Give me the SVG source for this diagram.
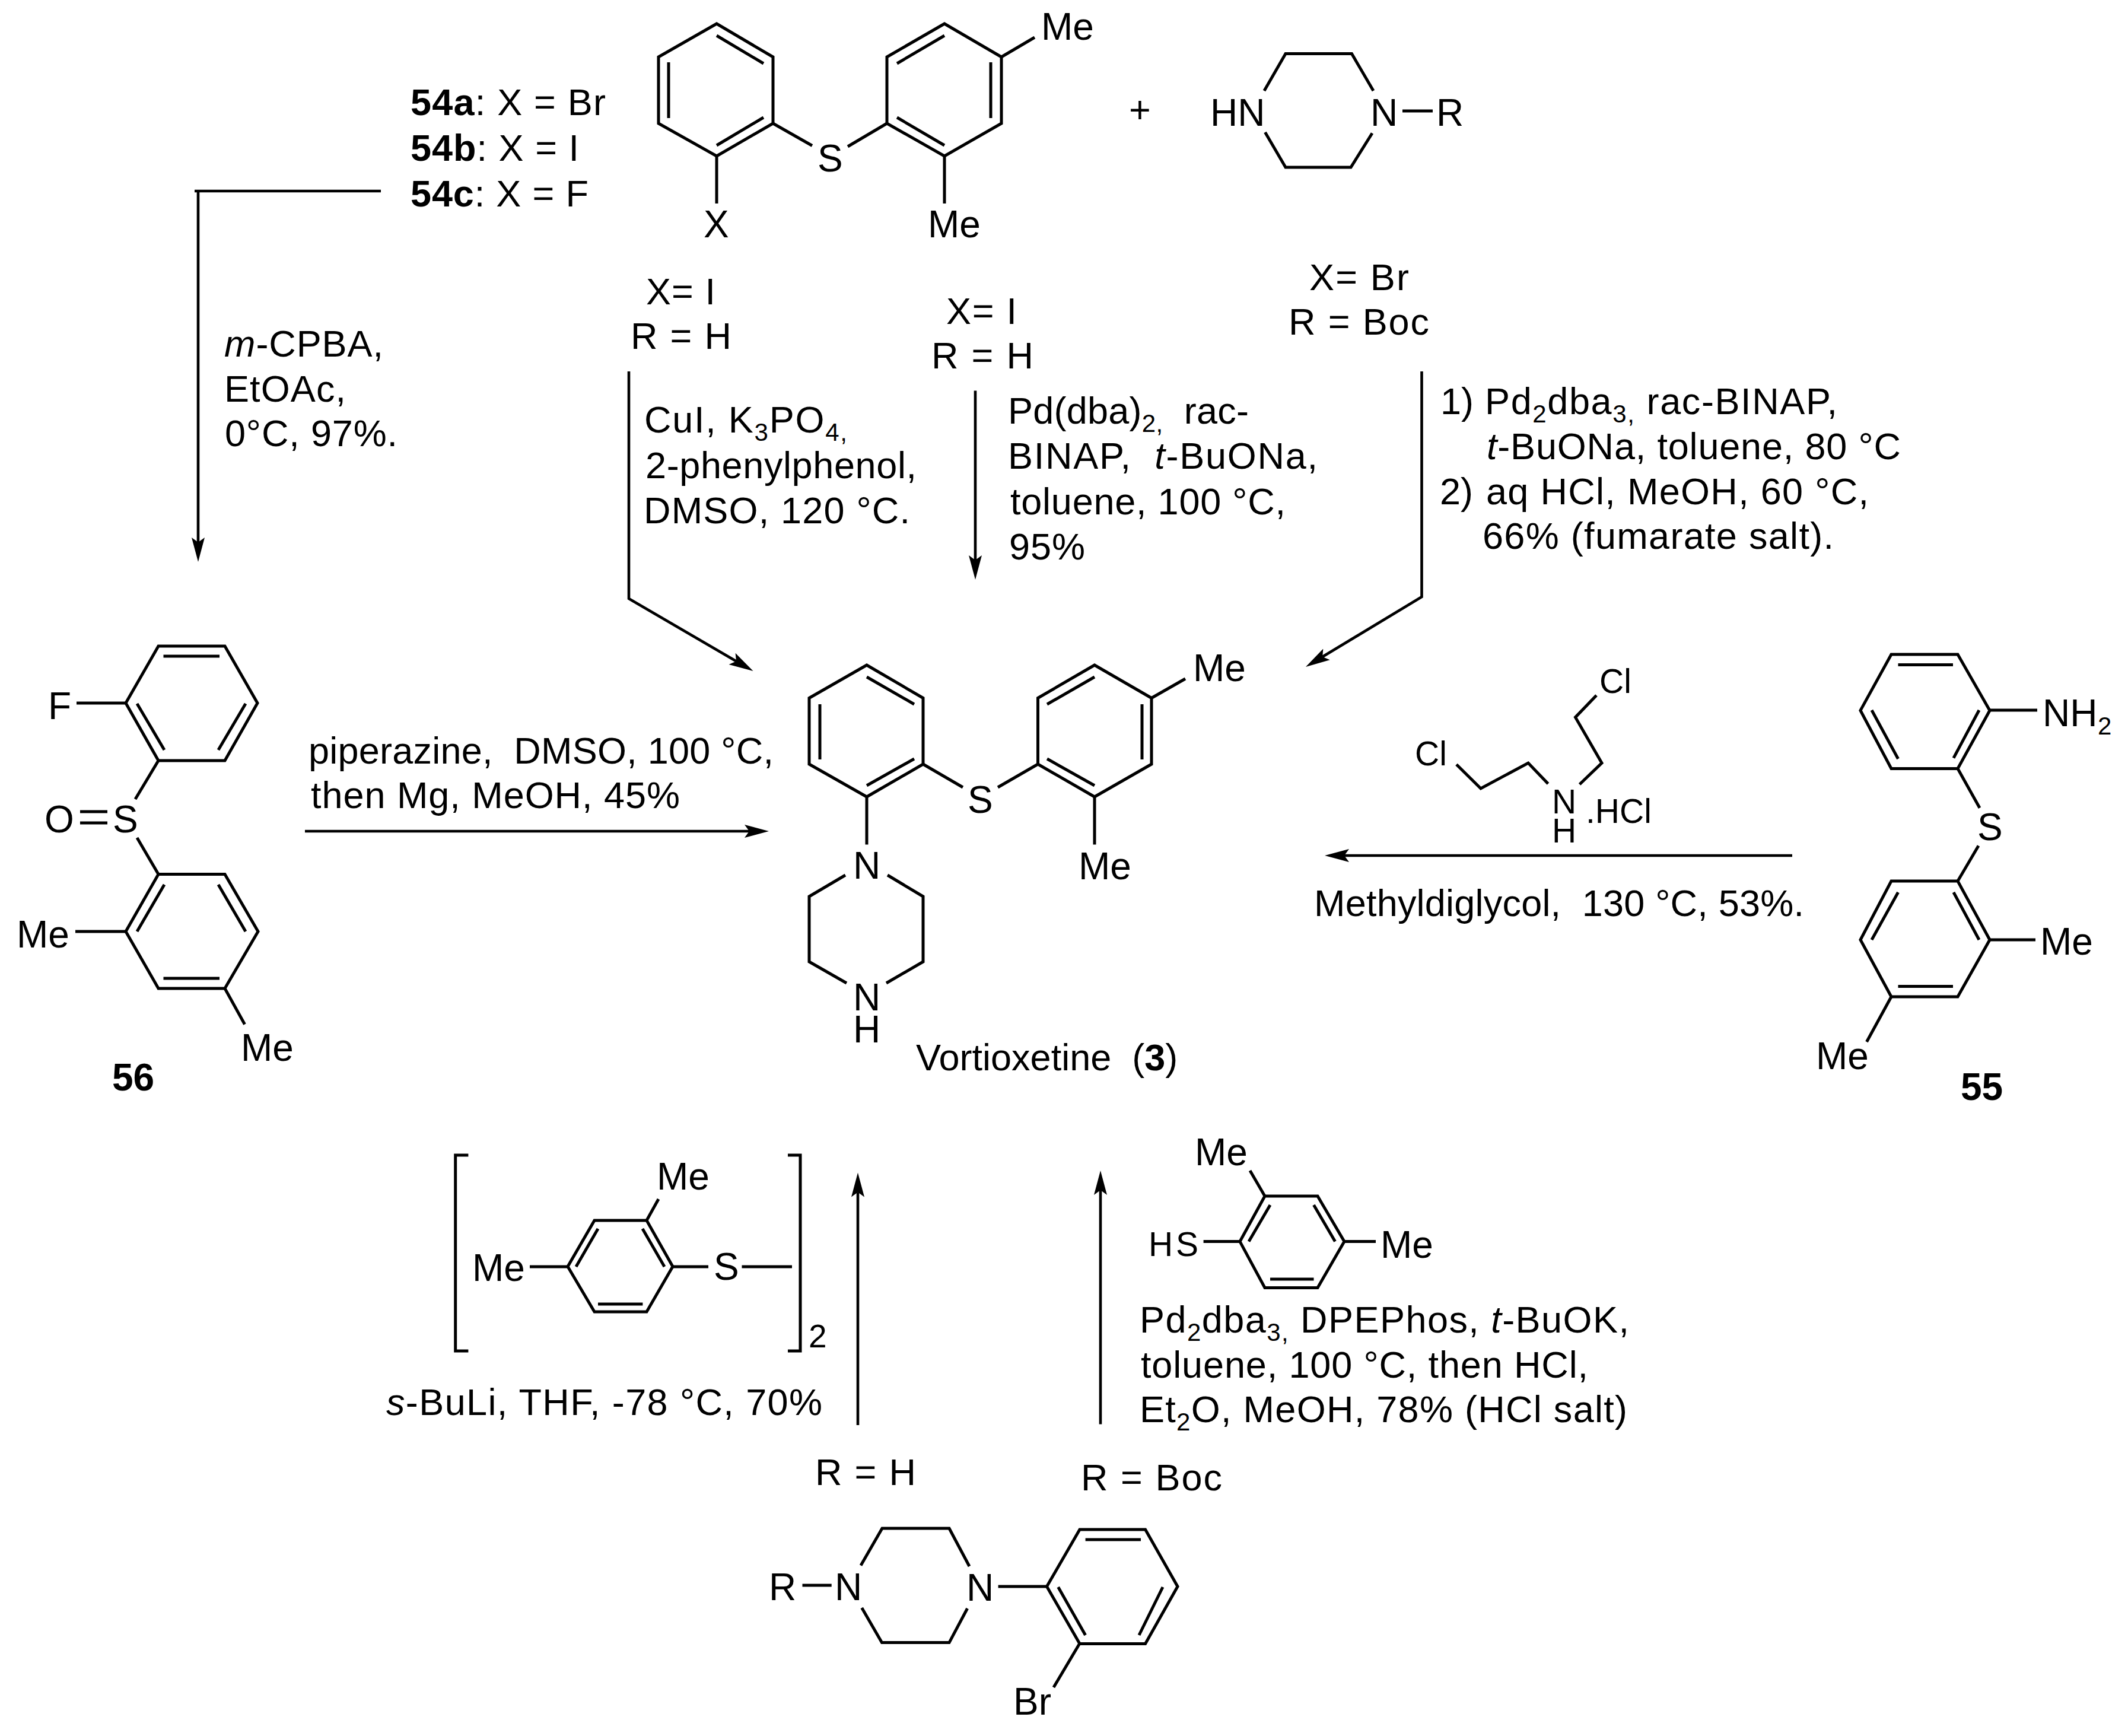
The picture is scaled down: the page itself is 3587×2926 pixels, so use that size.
<svg xmlns="http://www.w3.org/2000/svg" width="3587" height="2926" viewBox="0 0 3587 2926">
<style>
text{font-family:"Liberation Sans",Arial,sans-serif;font-size:63px;fill:#000;white-space:pre}
.a{font-size:64px}
.s{font-size:57px}
.b{font-weight:bold}
.i{font-style:italic}
.u{font-size:42px}
.v{font-size:55px}
path{fill:none;stroke:#000;stroke-width:5;stroke-linejoin:miter;stroke-linecap:butt}
#connectors path{stroke-width:4.6}
#ah path{fill:#000;stroke:none}
</style>
<defs>
<marker id="ah" viewBox="-8 -12 42 24" refX="0" refY="0" markerWidth="42" markerHeight="24" markerUnits="userSpaceOnUse" orient="auto">
<path d="M-8,-11L33,0L-8,11L0,0Z"/>
</marker>
</defs>
<rect width="3587" height="2926" fill="#fff"/>

<g id="connectors">
<path d="M328,322H642"/>
<path d="M334,322V914" marker-end="url(#ah)"/>
<path d="M1060,626V1009L1241,1114.4" marker-end="url(#ah)"/>
<path d="M1644,658.5V944" marker-end="url(#ah)"/>
<path d="M2396.5,626V1006L2229.2,1107" marker-end="url(#ah)"/>
<path d="M514,1401H1263" marker-end="url(#ah)"/>
<path d="M3021,1442H2266" marker-end="url(#ah)"/>
<path d="M1446,2402V2009.5" marker-end="url(#ah)"/>
<path d="M1855,2400.6V2006" marker-end="url(#ah)"/>
</g>

<g id="compound-54">
<path d="M1208,40L1303,96V208L1208,263L1110,208V96Z"/>
<path d="M1208,60L1287,107M1127,105V199M1208,245L1287,198"/>
<path d="M1303,208L1369,245.5M1429,247L1495,208"/>
<path d="M1592,40L1688,96V208L1592,263L1495,208V96Z"/>
<path d="M1512,107L1592,60M1670,105V199M1512,198L1592,245"/>
<path d="M1688,96L1744,63M1208,263V343M1592,263V343"/>
<text class="a" x="1378" y="289">S</text>
<text class="a" x="1755" y="67">Me</text>
<text class="a" x="1186" y="400">X</text>
<text class="a" x="1564" y="400">Me</text>
</g>

<g id="labels-54">
<text x="692" y="194" textLength="329"><tspan class="b">54a</tspan>: X = Br</text>
<text x="692" y="271" textLength="284"><tspan class="b">54b</tspan>: X = I</text>
<text x="692" y="348" textLength="300"><tspan class="b">54c</tspan>: X = F</text>
</g>

<g id="plus"><text x="1903" y="207">+</text></g>

<g id="piperazine-reagent">
<path d="M2131,153L2167,90.5H2278.5L2315,153M2132.5,223L2167,282H2277L2313,224.5M2364,187H2415"/>
<text class="a" x="2040" y="212">HN</text>
<text class="a" x="2310" y="212">N</text>
<text class="a" x="2421" y="212">R</text>
</g>

<g id="conditions-top">
<text x="1089" y="513" textLength="117">X= I</text>
<text x="1063" y="588" textLength="170">R = H</text>
<text x="1595" y="546" textLength="119">X= I</text>
<text x="1570" y="621" textLength="172">R = H</text>
<text x="2207" y="489" textLength="168">X= Br</text>
<text x="2172" y="564" textLength="237">R = Boc</text>
<text x="1086" y="729" textLength="342">CuI, K<tspan class="u" dy="14">3</tspan><tspan dy="-14">PO</tspan><tspan class="u" dy="14">4,</tspan></text>
<text x="1088" y="806" textLength="457">2-phenylphenol,</text>
<text x="1085" y="882" textLength="449">DMSO, 120 °C.</text>
<text x="1699" y="714" textLength="406">Pd(dba)<tspan class="u" dy="14">2,</tspan><tspan dy="-14">  rac-</tspan></text>
<text x="1699" y="790" textLength="522">BINAP,  <tspan class="i">t</tspan>-BuONa,</text>
<text x="1703" y="867" textLength="464">toluene, 100 °C,</text>
<text x="1701" y="943" textLength="128">95%</text>
<text x="2428" y="698">1)</text>
<text x="2503" y="698" textLength="594">Pd<tspan class="u" dy="14">2</tspan><tspan dy="-14">dba</tspan><tspan class="u" dy="14">3,</tspan><tspan dy="-14"> rac-BINAP,</tspan></text>
<text x="2506" y="774" textLength="698"><tspan class="i">t</tspan>-BuONa, toluene, 80 °C</text>
<text x="2427" y="850">2)</text>
<text x="2505" y="850" textLength="645">aq HCl, MeOH, 60 °C,</text>
<text x="2499" y="925" textLength="592">66% (fumarate salt).</text>
</g>

<g id="conditions-mcpba">
<text x="378" y="601" textLength="268"><tspan class="i">m</tspan>-CPBA,</text>
<text x="378" y="677" textLength="205">EtOAc,</text>
<text x="379" y="752" textLength="291">0°C, 97%.</text>
</g>

<g id="conditions-56">
<text x="520" y="1287" textLength="784">piperazine,  DMSO, 100 °C,</text>
<text x="524" y="1362" textLength="622">then Mg, MeOH, 45%</text>
</g>

<g id="compound-56">
<path d="M267,1089H379L434,1185L379,1282H267L212,1185Z"/>
<path d="M275.5,1106H370M231,1186L277,1264M414,1186L368,1264"/>
<path d="M129,1185H212M267,1282L228,1347M231,1412L267,1473.5"/>
<path d="M135,1368H181M135,1387H181"/>
<path d="M267,1473.5H379L435,1570L379,1666H267L212,1570Z"/>
<path d="M277,1491L231,1570M368,1491L414,1570M275.5,1649H370"/>
<path d="M127,1570H212M379,1666L412.5,1726.5"/>
<text class="a" x="81" y="1212">F</text>
<text class="a" x="75" y="1403">O</text>
<text class="a" x="190" y="1403">S</text>
<text class="a" x="28" y="1597">Me</text>
<text class="a" x="406" y="1788">Me</text>
<text class="a b" x="189" y="1838">56</text>
</g>

<g id="vortioxetine">
<path d="M1461,1121L1556,1176.5V1288L1461,1343L1364,1288V1176.5Z"/>
<path d="M1461,1141L1541,1187M1382,1187V1280M1461,1324L1541,1279"/>
<path d="M1556,1288L1623,1327M1682,1327L1749.5,1288"/>
<path d="M1845,1121L1941,1176.5V1288L1845,1343L1749.5,1288V1176.5Z"/>
<path d="M1765,1187L1845,1141M1925,1187V1280M1765,1279L1845,1324"/>
<path d="M1941,1176.5L1998,1144M1845,1343V1423.5M1461,1343V1423.5"/>
<path d="M1425,1475L1364,1511V1621L1427,1657M1496,1475L1556,1511V1621L1494,1657"/>
<text class="a" x="1631" y="1370">S</text>
<text class="a" x="2011" y="1148">Me</text>
<text class="a" x="1818" y="1482">Me</text>
<text class="a" x="1438" y="1481">N</text>
<text class="a" x="1438" y="1703">N</text>
<text class="a" x="1438" y="1757">H</text>
<text x="1544" y="1804">Vortioxetine  (<tspan class="b">3</tspan>)</text>
</g>

<g id="bis-chloroethylamine">
<path d="M2455,1288.5L2496,1329L2576,1286L2609.5,1321"/>
<path d="M2691,1172L2655.5,1209L2700,1286L2662.6,1322"/>
<text class="s" x="2385" y="1290">Cl</text>
<text class="s" x="2696" y="1168">Cl</text>
<text class="s" x="2616" y="1371">N</text>
<text class="s" x="2616" y="1420">H</text>
<text class="s" x="2673" y="1387">.HCl</text>
<text x="2215" y="1544" textLength="826">Methyldiglycol,  130 °C, 53%.</text>
</g>

<g id="compound-55">
<path d="M3188,1103H3300L3354,1197.4L3300,1295.5H3188L3136,1197.4Z"/>
<path d="M3199.5,1120.5H3292M3336,1197L3293,1277.6M3155,1197L3199.5,1279"/>
<path d="M3354,1197H3434M3300,1295.5L3337,1361.7M3335,1425.6L3300,1485"/>
<path d="M3188,1485H3300L3354,1584L3300,1680H3188L3136,1584Z"/>
<path d="M3293,1504L3336,1584M3199.5,1504L3155,1584M3199.5,1662.5H3292"/>
<path d="M3354,1584H3431M3188,1680L3146.5,1756"/>
<text class="a" x="3443" y="1224">NH<tspan class="u" x="3536" dy="14">2</tspan></text>
<text class="a" x="3333" y="1416">S</text>
<text class="a" x="3439" y="1609">Me</text>
<text class="a" x="3061" y="1802">Me</text>
<text class="a b" x="3305" y="1854">55</text>
</g>

<g id="disulfide">
<path d="M789.4,1947H767.7V2277H789.4M1328,1947H1349V2277H1328"/>
<path d="M1002,2057H1090L1134,2134.7L1090,2211H1002L957,2134.7Z"/>
<path d="M971,2135L1008,2071M1083,2071L1120,2135M1008,2198H1083.4"/>
<path d="M1110,2021L1090,2057M893,2135H957M1134,2135H1194M1250.5,2135H1335"/>
<text class="a" x="1107" y="2005">Me</text>
<text class="a" x="796" y="2159">Me</text>
<text class="a" x="1203" y="2157">S</text>
<text class="v" x="1363" y="2271">2</text>
<text x="651" y="2385" textLength="735"><tspan class="i">s</tspan>-BuLi, THF, -78 °C, 70%</text>
</g>

<g id="thiol">
<path d="M2132,2016H2221L2266,2092.6L2221,2170.4H2132L2090,2092.6Z"/>
<path d="M2141,2031L2105,2092.6M2214.5,2031L2250.5,2092.6M2141,2156H2214.5"/>
<path d="M2107,1973L2132,2016M2028.6,2092.6H2090M2266,2092.6H2319"/>
<text class="a" x="2014" y="1964">Me</text>
<text class="s" x="1936" y="2117" textLength="84">HS</text>
<text class="a" x="2327" y="2120">Me</text>
<text x="1921" y="2246" textLength="825">Pd<tspan class="u" dy="14">2</tspan><tspan dy="-14">dba</tspan><tspan class="u" dy="14">3,</tspan><tspan dy="-14"> DPEPhos, </tspan><tspan class="i">t</tspan>-BuOK,</text>
<text x="1923" y="2322" textLength="754">toluene, 100 °C, then HCl,</text>
<text x="1921" y="2397" textLength="822">Et<tspan class="u" dy="14">2</tspan><tspan dy="-14">O, MeOH, 78% (HCl salt)</tspan></text>
</g>

<g id="labels-bottom">
<text x="1374" y="2503" textLength="170">R = H</text>
<text x="1822" y="2512" textLength="238">R = Boc</text>
</g>

<g id="bromophenylpiperazine">
<path d="M1451,2638.5L1487,2576H1600L1634,2640M1452.7,2710L1486.5,2768.6H1600L1630.6,2711M1352.5,2672H1401.7"/>
<path d="M1820,2578H1930.6L1985,2674L1930.6,2770.5H1820L1764.5,2674Z"/>
<path d="M1829.6,2595H1923M1783.7,2675L1829.6,2756M1960,2675L1920,2756"/>
<path d="M1682.6,2674H1764.5M1819.6,2770.5L1776,2844"/>
<text class="a" x="1296" y="2697">R</text>
<text class="a" x="1407" y="2697">N</text>
<text class="a" x="1629" y="2698">N</text>
<text class="a" x="1708" y="2890">Br</text>
</g>
</svg>
